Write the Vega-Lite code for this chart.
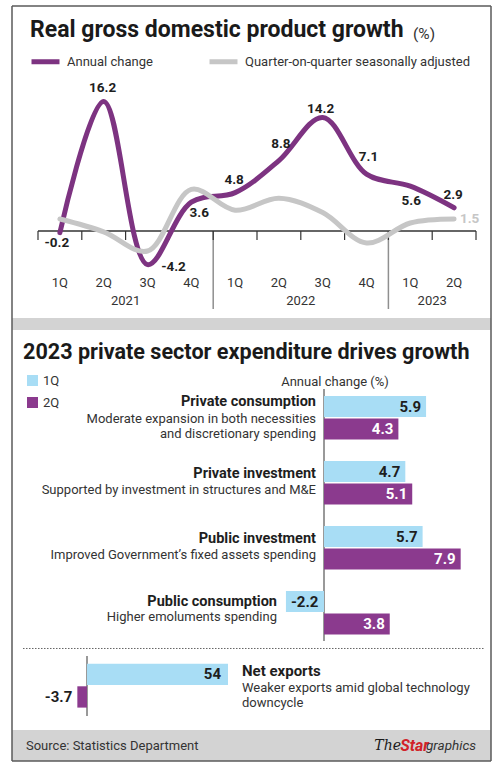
{
  "$schema": "https://vega.github.io/schema/vega-lite/v6.json",
  "padding": {"left": 11, "top": 5, "right": 9, "bottom": 6},
  "background": "white",
  "spacing": 0,
  "bounds": "flush",
  "config": {
    "font": "Roboto",
    "view": {"stroke": null},
    "axis": {"disable": true},
    "title": {"font": "Roboto"},
    "legend": {"labelFont": "Roboto"}
  },
  "resolve": {
    "scale": {"x": "independent", "y": "independent", "color": "independent", "yOffset": "independent"},
    "legend": {"color": "independent"}
  },
  "datasets": {
    "gdp": [
      {"period": "1Q 2021", "year": 2021, "q": "1Q", "start": 2021.0, "mid": 2021.125, "series": "Annual change", "value": -0.2},
      {"period": "2Q 2021", "year": 2021, "q": "2Q", "start": 2021.25, "mid": 2021.375, "series": "Annual change", "value": 16.2},
      {"period": "3Q 2021", "year": 2021, "q": "3Q", "start": 2021.5, "mid": 2021.625, "series": "Annual change", "value": -4.2},
      {"period": "4Q 2021", "year": 2021, "q": "4Q", "start": 2021.75, "mid": 2021.875, "series": "Annual change", "value": 3.6},
      {"period": "1Q 2022", "year": 2022, "q": "1Q", "start": 2022.0, "mid": 2022.125, "series": "Annual change", "value": 4.8},
      {"period": "2Q 2022", "year": 2022, "q": "2Q", "start": 2022.25, "mid": 2022.375, "series": "Annual change", "value": 8.8},
      {"period": "3Q 2022", "year": 2022, "q": "3Q", "start": 2022.5, "mid": 2022.625, "series": "Annual change", "value": 14.2},
      {"period": "4Q 2022", "year": 2022, "q": "4Q", "start": 2022.75, "mid": 2022.875, "series": "Annual change", "value": 7.1},
      {"period": "1Q 2023", "year": 2023, "q": "1Q", "start": 2023.0, "mid": 2023.125, "series": "Annual change", "value": 5.6},
      {"period": "2Q 2023", "year": 2023, "q": "2Q", "start": 2023.25, "mid": 2023.375, "series": "Annual change", "value": 2.9},
      {"period": "1Q 2021", "year": 2021, "q": "1Q", "start": 2021.0, "mid": 2021.125, "series": "Quarter-on-quarter seasonally adjusted", "value": 1.5},
      {"period": "2Q 2021", "year": 2021, "q": "2Q", "start": 2021.25, "mid": 2021.375, "series": "Quarter-on-quarter seasonally adjusted", "value": -0.1},
      {"period": "3Q 2021", "year": 2021, "q": "3Q", "start": 2021.5, "mid": 2021.625, "series": "Quarter-on-quarter seasonally adjusted", "value": -2.5},
      {"period": "4Q 2021", "year": 2021, "q": "4Q", "start": 2021.75, "mid": 2021.875, "series": "Quarter-on-quarter seasonally adjusted", "value": 5.2},
      {"period": "1Q 2022", "year": 2022, "q": "1Q", "start": 2022.0, "mid": 2022.125, "series": "Quarter-on-quarter seasonally adjusted", "value": 2.6},
      {"period": "2Q 2022", "year": 2022, "q": "2Q", "start": 2022.25, "mid": 2022.375, "series": "Quarter-on-quarter seasonally adjusted", "value": 4.1},
      {"period": "3Q 2022", "year": 2022, "q": "3Q", "start": 2022.5, "mid": 2022.625, "series": "Quarter-on-quarter seasonally adjusted", "value": 2.3},
      {"period": "4Q 2022", "year": 2022, "q": "4Q", "start": 2022.75, "mid": 2022.875, "series": "Quarter-on-quarter seasonally adjusted", "value": -1.5},
      {"period": "1Q 2023", "year": 2023, "q": "1Q", "start": 2023.0, "mid": 2023.125, "series": "Quarter-on-quarter seasonally adjusted", "value": 1.0},
      {"period": "2Q 2023", "year": 2023, "q": "2Q", "start": 2023.25, "mid": 2023.375, "series": "Quarter-on-quarter seasonally adjusted", "value": 1.5}
    ],
    "spend": [
      {"cat": "Private consumption", "quarter": "1Q", "value": 5.9},
      {"cat": "Private consumption", "quarter": "2Q", "value": 4.3},
      {"cat": "Private investment", "quarter": "1Q", "value": 4.7},
      {"cat": "Private investment", "quarter": "2Q", "value": 5.1},
      {"cat": "Public investment", "quarter": "1Q", "value": 5.7},
      {"cat": "Public investment", "quarter": "2Q", "value": 7.9},
      {"cat": "Public consumption", "quarter": "1Q", "value": -2.2},
      {"cat": "Public consumption", "quarter": "2Q", "value": 3.8}
    ],
    "cats": [
      {"cat": "Private consumption", "desc": ["Moderate expansion in both necessities", "and discretionary spending"]},
      {"cat": "Private investment", "desc": ["Supported by investment in structures and M&E"]},
      {"cat": "Public investment", "desc": ["Improved Government\u2019s fixed assets spending"]},
      {"cat": "Public consumption", "desc": ["Higher emoluments spending"]}
    ],
    "netx": [
      {"cat": "Net exports", "quarter": "1Q", "value": 54},
      {"cat": "Net exports", "quarter": "2Q", "value": -3.7}
    ]
  },
  "vconcat": [
    {
      "width": 479,
      "height": 312,
      "title": {"text": "Real gross domestic product growth", "anchor": "start", "frame": "group", "offset": 0, "dx": 18, "dy": 55, "baseline": "alphabetic", "fontSize": 23, "fontWeight": "bold", "color": "#1a1a1a"},
      "data": {"name": "gdp"},
      "layer": [
        {"data": {"values": [{}]}, "mark": {"type": "rule", "color": "#5a5a5a", "strokeWidth": 1.5},
         "encoding": {"x": {"datum": 2020.8516, "scale": {"domain": [2020.8516, 2023.5856], "nice": false, "zero": false}}}},
        {"data": {"values": [{}]}, "mark": {"type": "rule", "color": "#5a5a5a", "strokeWidth": 1.5},
         "encoding": {"x": {"datum": 2023.5856}}},
        {"data": {"values": [{}]}, "mark": {"type": "rule", "color": "#5a5a5a", "strokeWidth": 1.5},
         "encoding": {"y": {"datum": 28.125, "scale": {"domain": [-10.875, 28.125], "nice": false, "zero": false}}}},
        {"transform": [{"filter": "datum.series == 'Annual change' && datum.q == '1Q' && datum.year > 2021"}],
         "mark": {"type": "rule", "color": "#8f8f8f", "strokeWidth": 1.5},
         "encoding": {"x": {"field": "start", "type": "quantitative"}, "y": {"datum": 0}, "y2": {"datum": -9.75}}},
        {"transform": [{"filter": "datum.series == 'Annual change'"}],
         "mark": {"type": "rule", "color": "#333333", "strokeWidth": 1.2},
         "encoding": {"x": {"field": "start", "type": "quantitative"}, "y": {"datum": 0}, "y2": {"datum": -1.125}}},
        {"data": {"values": [{}]}, "mark": {"type": "rule", "color": "#333333", "strokeWidth": 1.2},
         "encoding": {"x": {"datum": 2023.5}, "y": {"datum": 0}, "y2": {"datum": -1.125}}},
        {"data": {"values": [{}]}, "mark": {"type": "rule", "color": "#333333", "strokeWidth": 1.5},
         "encoding": {"x": {"datum": 2021.0}, "x2": {"datum": 2023.5}, "y": {"datum": 0}}},
        {"transform": [{"filter": "datum.series == 'Annual change'"}],
         "mark": {"type": "line", "interpolate": "catmull-rom", "strokeWidth": 5, "strokeCap": "round"},
         "encoding": {
           "x": {"field": "mid", "type": "quantitative"},
           "y": {"field": "value", "type": "quantitative"},
           "color": {"field": "series", "type": "nominal",
             "scale": {"domain": ["Annual change", "Quarter-on-quarter seasonally adjusted"], "range": ["#7d3381", "#c6c6c6"]},
             "legend": {"orient": "none", "legendX": 17, "legendY": 39, "direction": "horizontal", "title": null, "symbolType": "stroke", "symbolSize": 784, "symbolStrokeWidth": 5, "labelFontSize": 13, "labelColor": "#333333", "labelOffset": 5, "columnPadding": 46, "padding": 0, "labelLimit": 400}}
         }},
        {"transform": [{"filter": "datum.series != 'Annual change'"}],
         "mark": {"type": "line", "interpolate": "catmull-rom", "strokeWidth": 5, "strokeCap": "round"},
         "encoding": {
           "x": {"field": "mid", "type": "quantitative"},
           "y": {"field": "value", "type": "quantitative"},
           "color": {"field": "series", "type": "nominal"}
         }},
        {"transform": [{"filter": "datum.series == 'Annual change'"}, {"filter": {"field": "period", "oneOf": ["2Q 2021", "1Q 2022", "2Q 2023"]}}],
         "mark": {"type": "text", "fontWeight": "bold", "fontSize": 13.5, "color": "#1e1e1e", "dx": -1, "dy": -13},
         "encoding": {"x": {"field": "mid", "type": "quantitative"}, "y": {"field": "value", "type": "quantitative"}, "text": {"field": "value", "type": "nominal"}}},
        {"transform": [{"filter": "datum.series == 'Annual change'"}, {"filter": {"field": "period", "oneOf": ["3Q 2022"]}}],
         "mark": {"type": "text", "fontWeight": "bold", "fontSize": 13.5, "color": "#1e1e1e", "dx": -2, "dy": -8},
         "encoding": {"x": {"field": "mid", "type": "quantitative"}, "y": {"field": "value", "type": "quantitative"}, "text": {"field": "value", "type": "nominal"}}},
        {"transform": [{"filter": "datum.series == 'Annual change'"}, {"filter": {"field": "period", "oneOf": ["2Q 2022", "4Q 2022"]}}],
         "mark": {"type": "text", "fontWeight": "bold", "fontSize": 13.5, "color": "#1e1e1e", "dx": 2, "dy": -17},
         "encoding": {"x": {"field": "mid", "type": "quantitative"}, "y": {"field": "value", "type": "quantitative"}, "text": {"field": "value", "type": "nominal"}}},
        {"transform": [{"filter": "datum.series == 'Annual change'"}, {"filter": {"field": "period", "oneOf": ["1Q 2023"]}}],
         "mark": {"type": "text", "fontWeight": "bold", "fontSize": 13.5, "color": "#1e1e1e", "dx": 1, "dy": 15},
         "encoding": {"x": {"field": "mid", "type": "quantitative"}, "y": {"field": "value", "type": "quantitative"}, "text": {"field": "value", "type": "nominal"}}},
        {"transform": [{"filter": "datum.series == 'Annual change'"}, {"filter": {"field": "period", "oneOf": ["1Q 2021"]}}],
         "mark": {"type": "text", "fontWeight": "bold", "fontSize": 13.5, "color": "#1e1e1e", "dx": -3, "dy": 10},
         "encoding": {"x": {"field": "mid", "type": "quantitative"}, "y": {"field": "value", "type": "quantitative"}, "text": {"field": "value", "type": "nominal"}}},
        {"transform": [{"filter": "datum.series == 'Annual change'"}, {"filter": {"field": "period", "oneOf": ["3Q 2021"]}}],
         "mark": {"type": "text", "fontWeight": "bold", "fontSize": 13.5, "color": "#1e1e1e", "dx": 26, "dy": 2},
         "encoding": {"x": {"field": "mid", "type": "quantitative"}, "y": {"field": "value", "type": "quantitative"}, "text": {"field": "value", "type": "nominal"}}},
        {"transform": [{"filter": "datum.series == 'Annual change'"}, {"filter": {"field": "period", "oneOf": ["4Q 2021"]}}],
         "mark": {"type": "text", "fontWeight": "bold", "fontSize": 13.5, "color": "#1e1e1e", "dx": 8, "dy": 11},
         "encoding": {"x": {"field": "mid", "type": "quantitative"}, "y": {"field": "value", "type": "quantitative"}, "text": {"field": "value", "type": "nominal"}}},
        {"transform": [{"filter": "datum.series != 'Annual change'"}, {"filter": {"field": "period", "oneOf": ["2Q 2023"]}}],
         "mark": {"type": "text", "fontWeight": "bold", "fontSize": 13.5, "color": "#c6c6c6", "dx": 15.5, "dy": 0},
         "encoding": {"x": {"field": "mid", "type": "quantitative"}, "y": {"field": "value", "type": "quantitative"}, "text": {"field": "value", "type": "nominal"}}},
        {"transform": [{"filter": "datum.series == 'Annual change'"}],
         "mark": {"type": "text", "fontSize": 13, "color": "#333333", "baseline": "middle"},
         "encoding": {"x": {"field": "mid", "type": "quantitative"}, "y": {"datum": -6.46}, "text": {"field": "q", "type": "nominal"}}},
        {"transform": [{"filter": "datum.series == 'Annual change'"}, {"aggregate": [{"op": "mean", "field": "mid", "as": "center"}], "groupby": ["year"]}],
         "mark": {"type": "text", "fontSize": 13, "color": "#333333", "baseline": "middle"},
         "encoding": {"x": {"field": "center", "type": "quantitative"}, "y": {"datum": -8.75}, "text": {"field": "year", "type": "nominal"}}},
        {"data": {"values": [{}]},
         "mark": {"type": "text", "text": "(%)", "align": "left", "baseline": "alphabetic", "fontSize": 15.5, "color": "#333333"},
         "encoding": {"x": {"datum": 2023.1404}, "y": {"datum": 24}}}
      ]
    },
    {
      "width": 479,
      "height": 12,
      "view": {"fill": "#d3d3d3", "stroke": null},
      "layer": [
        {"data": {"values": [{}]}, "mark": {"type": "rule", "color": "#5a5a5a", "strokeWidth": 1.5},
         "encoding": {"x": {"datum": 0, "scale": {"domain": [0, 1], "nice": false, "zero": false}}}},
        {"data": {"values": [{}]}, "mark": {"type": "rule", "color": "#5a5a5a", "strokeWidth": 1.5},
         "encoding": {"x": {"datum": 1}}}
      ]
    },
    {
      "width": 479,
      "height": 318,
      "title": {"text": "2023 private sector expenditure drives growth", "anchor": "start", "frame": "group", "offset": 0, "dx": 11, "dy": 51, "baseline": "alphabetic", "fontSize": 21.6, "fontWeight": "bold", "color": "#1a1a1a"},
      "layer": [
        {"data": {"values": [{}]}, "mark": {"type": "rule", "color": "#5a5a5a", "strokeWidth": 1.5},
         "encoding": {"x": {"datum": -18.035, "scale": {"domain": [-18.035, 9.653], "nice": false, "zero": false}}}},
        {"data": {"values": [{}]}, "mark": {"type": "rule", "color": "#5a5a5a", "strokeWidth": 1.5},
         "encoding": {"x": {"datum": 9.653}}},
        {"data": {"values": [{}]}, "mark": {"type": "rule", "color": "#555555", "strokeWidth": 1.2},
         "encoding": {
           "x": {"datum": 0},
           "y": {"datum": "Private consumption", "bandPosition": -0.161, "scale": {"type": "band", "domain": ["Private consumption", "Private investment", "Public investment", "Public consumption"], "paddingInner": 0.3308, "paddingOuter": 0.6115, "align": 0.83}},
           "y2": {"datum": "Public consumption", "bandPosition": 1.149}
         }},
        {"data": {"name": "spend"}, "mark": {"type": "bar"},
         "encoding": {
           "x": {"field": "value", "type": "quantitative", "stack": null},
           "y": {"field": "cat", "type": "nominal"},
           "yOffset": {"field": "quarter", "type": "nominal", "scale": {"domain": ["1Q", "2Q"], "paddingInner": 0.06, "paddingOuter": 0}},
           "color": {"field": "quarter", "type": "nominal", "scale": {"domain": ["1Q", "2Q"], "range": ["#a8ddf5", "#8b3a8e"]},
             "legend": {"orient": "none", "legendX": 14, "legendY": 44, "title": null, "symbolType": "square", "symbolSize": 121, "symbolStrokeWidth": 0, "labelFontSize": 13, "labelColor": "#333333", "labelOffset": 4, "rowPadding": 8, "padding": 0}}
         }},
        {"data": {"name": "spend"}, "transform": [{"filter": "datum.value >= 0"}],
         "mark": {"type": "text", "align": "right", "baseline": "middle", "dx": -5, "fontSize": 15, "fontWeight": "bold"},
         "encoding": {
           "x": {"field": "value", "type": "quantitative"},
           "y": {"field": "cat", "type": "nominal"},
           "yOffset": {"field": "quarter", "type": "nominal"},
           "text": {"field": "value", "type": "nominal"},
           "color": {"condition": {"test": "datum.quarter == '2Q'", "value": "#ffffff"}, "value": "#1e1e1e"}
         }},
        {"data": {"name": "spend"}, "transform": [{"filter": "datum.value < 0"}],
         "mark": {"type": "text", "align": "left", "baseline": "middle", "dx": 5, "fontSize": 15, "fontWeight": "bold", "color": "#1e1e1e"},
         "encoding": {
           "x": {"field": "value", "type": "quantitative"},
           "y": {"field": "cat", "type": "nominal"},
           "yOffset": {"field": "quarter", "type": "nominal"},
           "text": {"field": "value", "type": "nominal"}
         }},
        {"data": {"name": "cats"}, "transform": [{"filter": "datum.cat == 'Private consumption'"}],
         "mark": {"type": "text", "align": "right", "baseline": "middle", "dx": -8, "dy": -16, "fontSize": 14.5, "fontWeight": "bold", "color": "#1e1e1e"},
         "encoding": {"x": {"datum": 0}, "y": {"field": "cat", "type": "nominal"}, "text": {"field": "cat", "type": "nominal"}}},
        {"data": {"name": "cats"}, "transform": [{"filter": "datum.cat == 'Private investment' || datum.cat == 'Public investment'"}],
         "mark": {"type": "text", "align": "right", "baseline": "middle", "dx": -8, "dy": -9.2, "fontSize": 14.5, "fontWeight": "bold", "color": "#1e1e1e"},
         "encoding": {"x": {"datum": 0}, "y": {"field": "cat", "type": "nominal"}, "text": {"field": "cat", "type": "nominal"}}},
        {"data": {"name": "cats"}, "transform": [{"filter": "datum.cat == 'Public consumption'"}],
         "mark": {"type": "text", "align": "right", "baseline": "middle", "dx": -47, "dy": -10.3, "fontSize": 14.5, "fontWeight": "bold", "color": "#1e1e1e"},
         "encoding": {"x": {"datum": 0}, "y": {"field": "cat", "type": "nominal"}, "text": {"field": "cat", "type": "nominal"}}},
        {"data": {"name": "cats"}, "transform": [{"filter": "datum.cat == 'Private consumption'"}],
         "mark": {"type": "text", "align": "right", "baseline": "middle", "dx": -8, "dy": 1.3, "lineHeight": 15, "fontSize": 13, "color": "#333333"},
         "encoding": {"x": {"datum": 0}, "y": {"field": "cat", "type": "nominal"}, "text": {"field": "desc"}}},
        {"data": {"name": "cats"}, "transform": [{"filter": "datum.cat == 'Private investment' || datum.cat == 'Public investment'"}],
         "mark": {"type": "text", "align": "right", "baseline": "middle", "dx": -8, "dy": 6.8, "lineHeight": 15, "fontSize": 13, "color": "#333333"},
         "encoding": {"x": {"datum": 0}, "y": {"field": "cat", "type": "nominal"}, "text": {"field": "desc"}}},
        {"data": {"name": "cats"}, "transform": [{"filter": "datum.cat == 'Public consumption'"}],
         "mark": {"type": "text", "align": "right", "baseline": "middle", "dx": -47, "dy": 4.7, "lineHeight": 15, "fontSize": 13, "color": "#333333"},
         "encoding": {"x": {"datum": 0}, "y": {"field": "cat", "type": "nominal"}, "text": {"field": "desc"}}},
        {"data": {"values": [{}]},
         "mark": {"type": "text", "text": "Annual change (%)", "align": "center", "baseline": "middle", "dy": -35.75, "fontSize": 13, "color": "#333333"},
         "encoding": {"x": {"datum": 0.636}, "y": {"datum": "Private consumption"}}}
      ]
    },
    {
      "width": 479,
      "height": 82,
      "layer": [
        {"data": {"values": [{}]}, "mark": {"type": "rule", "color": "#5a5a5a", "strokeWidth": 1.5},
         "encoding": {"x": {"datum": -28.723, "scale": {"domain": [-28.723, 154.72], "nice": false, "zero": false}}}},
        {"data": {"values": [{}]}, "mark": {"type": "rule", "color": "#5a5a5a", "strokeWidth": 1.5},
         "encoding": {"x": {"datum": 154.72}}},
        {"data": {"values": [{}]}, "mark": {"type": "rule", "color": "#666666", "strokeWidth": 1, "strokeDash": [1.5, 1.5]},
         "encoding": {
           "x": {"datum": -24.51}, "x2": {"datum": 152.05},
           "y": {"datum": "1Q", "bandPosition": -0.714, "scale": {"type": "band", "domain": ["1Q", "2Q"], "paddingInner": 0.0575, "paddingOuter": 0.843, "align": 0.412}}
         }},
        {"data": {"values": [{}]}, "mark": {"type": "rule", "color": "#555555", "strokeWidth": 1.2},
         "encoding": {"x": {"datum": 0}, "y": {"datum": "1Q", "bandPosition": -0.36}, "y2": {"datum": "2Q", "bandPosition": 1.39}}},
        {"data": {"name": "netx"}, "mark": {"type": "bar"},
         "encoding": {
           "x": {"field": "value", "type": "quantitative", "stack": null},
           "y": {"field": "quarter", "type": "nominal"},
           "color": {"field": "quarter", "type": "nominal", "scale": {"domain": ["1Q", "2Q"], "range": ["#a8ddf5", "#8b3a8e"]}, "legend": null}
         }},
        {"data": {"name": "netx"}, "transform": [{"filter": "datum.value >= 0"}],
         "mark": {"type": "text", "align": "right", "baseline": "middle", "dx": -7, "fontSize": 15, "fontWeight": "bold", "color": "#1e1e1e"},
         "encoding": {"x": {"field": "value", "type": "quantitative"}, "y": {"field": "quarter", "type": "nominal"}, "text": {"field": "value", "type": "nominal"}}},
        {"data": {"name": "netx"}, "transform": [{"filter": "datum.value < 0"}],
         "mark": {"type": "text", "align": "right", "baseline": "middle", "dx": -5, "fontSize": 15, "fontWeight": "bold", "color": "#1e1e1e"},
         "encoding": {"x": {"field": "value", "type": "quantitative"}, "y": {"field": "quarter", "type": "nominal"}, "text": {"field": "value", "type": "nominal"}}},
        {"data": {"values": [{}]},
         "mark": {"type": "text", "text": "Net exports", "align": "left", "baseline": "middle", "dy": -3.4, "fontSize": 15, "fontWeight": "bold", "color": "#1e1e1e"},
         "encoding": {"x": {"datum": 59.36}, "y": {"datum": "1Q"}}},
        {"data": {"values": [{}]},
         "mark": {"type": "text", "text": ["Weaker exports amid global technology", "downcycle"], "align": "left", "baseline": "middle", "dy": 13.3, "lineHeight": 15, "fontSize": 13, "color": "#333333"},
         "encoding": {"x": {"datum": 59.36}, "y": {"datum": "1Q"}}}
      ]
    },
    {
      "width": 479,
      "height": 31,
      "view": {"fill": "#d3d3d3", "stroke": null},
      "layer": [
        {"data": {"values": [{}]}, "mark": {"type": "rule", "color": "#5a5a5a", "strokeWidth": 1.5},
         "encoding": {"x": {"datum": 0, "scale": {"domain": [0, 1], "nice": false, "zero": false}}}},
        {"data": {"values": [{}]}, "mark": {"type": "rule", "color": "#5a5a5a", "strokeWidth": 1.5},
         "encoding": {"x": {"datum": 1}}},
        {"data": {"values": [{}]}, "mark": {"type": "rule", "color": "#5a5a5a", "strokeWidth": 1.5},
         "encoding": {"y": {"datum": 0, "scale": {"domain": [0, 1], "nice": false, "zero": false}}}},
        {"data": {"values": [{}]},
         "mark": {"type": "text", "text": "Source: Statistics Department", "align": "left", "baseline": "middle", "fontSize": 13, "color": "#333333"},
         "encoding": {"x": {"datum": 0.0292}, "y": {"datum": 0.5}}},
        {"data": {"values": [{}]},
         "mark": {"type": "text", "text": "The", "align": "right", "baseline": "middle", "fontSize": 14, "font": "DejaVu Serif", "fontStyle": "italic", "color": "#1a1a1a"},
         "encoding": {"x": {"datum": 0.8121}, "y": {"datum": 0.5}}},
        {"data": {"values": [{}]},
         "mark": {"type": "text", "text": "Star", "align": "right", "baseline": "middle", "fontSize": 16, "fontWeight": "bold", "fontStyle": "italic", "color": "#d12229"},
         "encoding": {"x": {"datum": 0.8706}, "y": {"datum": 0.5}}},
        {"data": {"values": [{}]},
         "mark": {"type": "text", "text": "graphics", "align": "right", "baseline": "middle", "fontSize": 13.5, "fontStyle": "italic", "color": "#333333"},
         "encoding": {"x": {"datum": 0.9687}, "y": {"datum": 0.5}}}
      ]
    }
  ]
}
